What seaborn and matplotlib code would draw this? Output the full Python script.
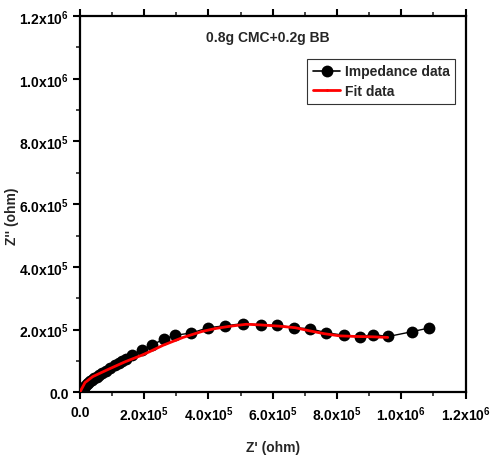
import matplotlib
matplotlib.use("Agg")
import matplotlib.pyplot as plt
import matplotlib.ticker as mticker
from matplotlib.lines import Line2D
import seaborn as sns
import pandas as pd

# Nyquist plot: measured impedance and equivalent-circuit fit (values in ohm)
z_real = [0.004e6, 0.008e6, 0.012e6, 0.016e6, 0.021e6, 0.026e6, 0.032e6, 0.038e6,
          0.045e6, 0.052e6, 0.060e6, 0.068e6, 0.080e6, 0.093e6, 0.108e6, 0.121e6,
          0.132e6, 0.145e6, 0.162e6, 0.192e6, 0.223e6, 0.262e6, 0.296e6, 0.347e6,
          0.399e6, 0.451e6, 0.507e6, 0.565e6, 0.614e6, 0.666e6, 0.715e6, 0.767e6,
          0.821e6, 0.872e6, 0.912e6, 0.960e6, 1.032e6, 1.086e6]
z_imag = [0.000e6, 0.007e6, 0.013e6, 0.019e6, 0.025e6, 0.030e6, 0.035e6, 0.040e6,
          0.045e6, 0.050e6, 0.055e6, 0.060e6, 0.068e6, 0.078e6, 0.086e6, 0.093e6,
          0.100e6, 0.106e6, 0.118e6, 0.135e6, 0.150e6, 0.170e6, 0.182e6, 0.189e6,
          0.206e6, 0.212e6, 0.219e6, 0.215e6, 0.214e6, 0.206e6, 0.203e6, 0.190e6,
          0.182e6, 0.177e6, 0.184e6, 0.178e6, 0.193e6, 0.205e6]

fit_real = [0.000e6, 0.005e6, 0.016e6, 0.040e6, 0.088e6, 0.140e6, 0.192e6, 0.218e6,
            0.259e6, 0.321e6, 0.380e6, 0.425e6, 0.470e6, 0.518e6, 0.560e6, 0.620e6,
            0.670e6, 0.715e6, 0.760e6, 0.808e6, 0.860e6, 0.910e6, 0.958e6]
fit_imag = [0.000e6, 0.010e6, 0.031e6, 0.050e6, 0.073e6, 0.097e6, 0.118e6, 0.130e6,
            0.150e6, 0.175e6, 0.194e6, 0.204e6, 0.211e6, 0.217e6, 0.215e6, 0.211e6,
            0.206e6, 0.196e6, 0.187e6, 0.180e6, 0.178e6, 0.177e6, 0.175e6]

sample_label = "0.8g CMC+0.2g BB"
series_labels = ["Impedance data", "Fit data"]
x_label = "Z' (ohm)"
y_label = "Z'' (ohm)"

sns.set_theme(style="ticks")
plt.rcParams["font.family"] = ["Liberation Sans", "DejaVu Sans"]
plt.rcParams["font.weight"] = "bold"
plt.rcParams["mathtext.fontset"] = "custom"
plt.rcParams["mathtext.rm"] = "Liberation Sans:bold"
plt.rcParams["mathtext.bf"] = "Liberation Sans:bold"
plt.rcParams["mathtext.default"] = "bf"

meas = pd.DataFrame({"x": z_real, "y": z_imag})
fit = pd.DataFrame({"x": fit_real, "y": fit_imag})

fig = plt.figure(figsize=(4.9, 4.6), dpi=100)
ax = fig.add_axes([0.163, 0.145, 0.787, 0.818])

sns.lineplot(data=meas, x="x", y="y", sort=False, ax=ax, color="black",
             linewidth=1.0, marker="o", markersize=8.5, markeredgewidth=0,
             zorder=2)
sns.lineplot(data=fit, x="x", y="y", sort=False, ax=ax, color="#ff0000",
             linewidth=2.0, zorder=3)

ax.set_xlim(0, 1.2e6)
ax.set_ylim(0, 1.2e6)


def sci_fmt(v, pos):
    if v == 0:
        return "0.0"
    exp = 0
    m = v
    while abs(m) >= 10:
        m /= 10
        exp += 1
    return f"{m:.1f}x10$^{{{exp}}}$"


for axis in (ax.xaxis, ax.yaxis):
    axis.set_major_locator(mticker.MultipleLocator(0.2e6))
    axis.set_minor_locator(mticker.MultipleLocator(0.1e6))
    axis.set_major_formatter(mticker.FuncFormatter(sci_fmt))

ax.tick_params(which="major", direction="out", length=5, width=1.5,
               labelsize=10, colors="black", top=True, right=False)
ax.tick_params(which="minor", direction="out", length=3, width=1.2,
               top=True, right=False)
ax.tick_params(axis="x", pad=4)
ax.tick_params(axis="y", pad=3)
for lab in ax.get_xticklabels() + ax.get_yticklabels():
    lab.set_fontweight("bold")

for side in ["left", "bottom", "top", "right"]:
    ax.spines[side].set_visible(True)
    ax.spines[side].set_linewidth(1.6)
    ax.spines[side].set_color("black")

ax.set_xlabel(x_label, fontsize=10, fontweight="bold")
ax.set_ylabel(y_label, fontsize=10, fontweight="bold")
ax.xaxis.set_label_coords(0.50, -0.128)
ax.yaxis.set_label_coords(-0.158, 0.47)

ax.text(0.488, 0.944, sample_label, transform=ax.transAxes, ha="center",
        va="center", fontsize=10, fontweight="bold")

handles = [
    Line2D([], [], color="black", linewidth=1.2, marker="o", markersize=8.5,
           markeredgewidth=0),
    Line2D([], [], color="#ff0000", linewidth=2.0, marker="o", markersize=2,
           markeredgewidth=0),
]
leg = ax.legend(handles, series_labels, loc="upper right",
                bbox_to_anchor=(0.973, 0.886), borderaxespad=0,
                fancybox=False, frameon=True, framealpha=1,
                handlelength=2.0, handletextpad=0.3, borderpad=0.4,
                labelspacing=0.4, prop={"size": 10, "weight": "bold"})
leg.get_frame().set_edgecolor("#333333")
leg.get_frame().set_linewidth(0.8)

fig.savefig("out.png", dpi=100)
